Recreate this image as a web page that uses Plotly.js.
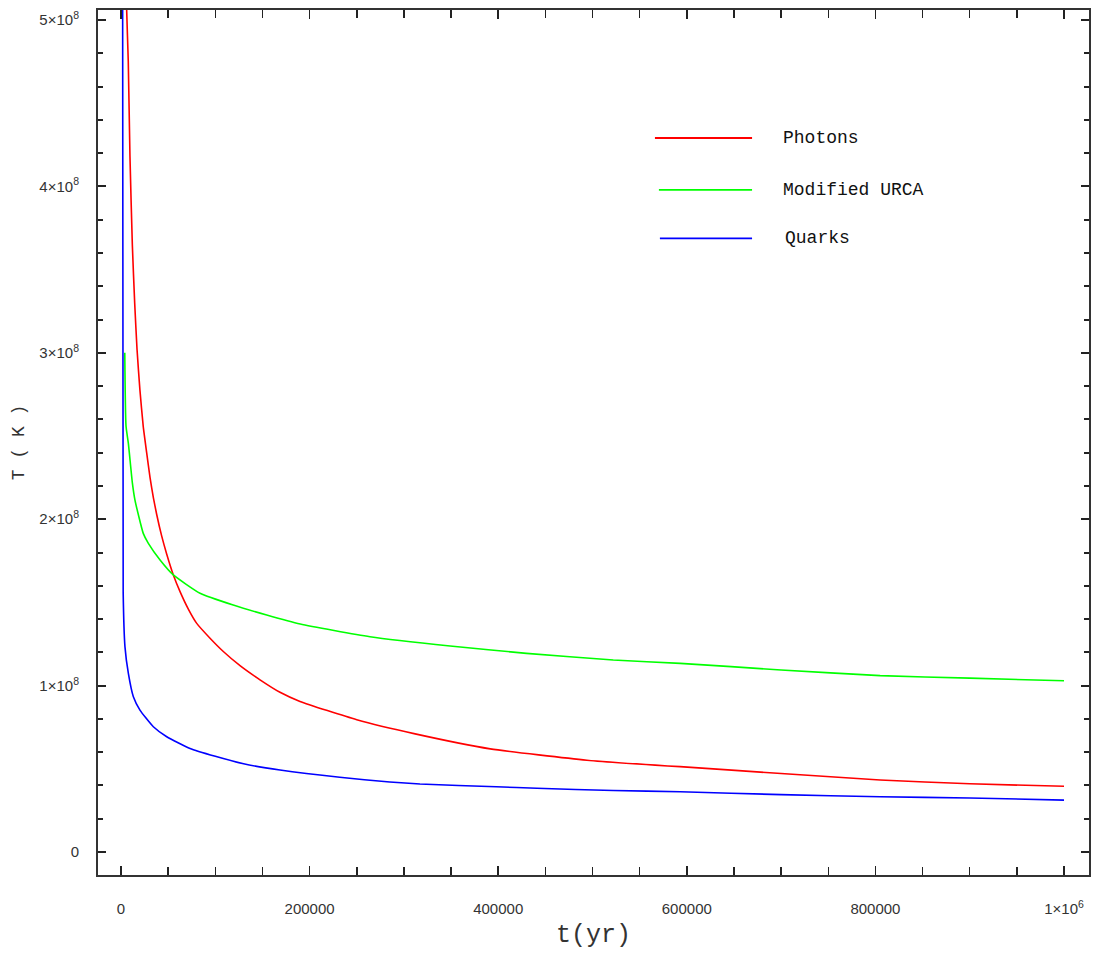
<!DOCTYPE html>
<html>
<head>
<meta charset="utf-8">
<script src="https://cdn.plot.ly/plotly-3.0.1.min.js"></script>
<style>body{margin:0;background:#fff;} #chart{width:1094px;height:954px;}</style>
</head>
<body>
<div id="chart"></div>
<script>
// Data (t in years, T in kelvin)
const seriesNames = ["Photons", "Modified URCA", "Quarks"];
const seriesColors = ["#ff0000", "#00ff00", "#0000ff"];

const photonsT = [5000, 6000, 7700, 9500, 12000, 14500, 17000, 20000, 23600, 27200, 30800, 34300, 37800, 43100, 48500, 55500, 62600, 71400, 80300, 94400, 108500, 126200, 147400, 168600, 189800, 250000, 311900, 391500, 494000, 566500, 592800, 700000, 805000, 900000, 1000000];
const photonsK = [5.6e8, 5.06e8, 4.75e8, 4.18e8, 3.65e8, 3.3e8, 3.02e8, 2.78e8, 2.556e8, 2.40e8, 2.25e8, 2.13e8, 2.03e8, 1.90e8, 1.79e8, 1.665e8, 1.565e8, 1.46e8, 1.374e8, 1.285e8, 1.205e8, 1.12e8, 1.035e8, 0.96e8, 0.905e8, 0.795e8, 0.71e8, 0.62e8, 0.552e8, 0.522e8, 0.513e8, 0.472e8, 0.433e8, 0.41e8, 0.395e8];

const urcaT = [4000, 5300, 7800, 12000, 14800, 23600, 29000, 41400, 55500, 83800, 119000, 154500, 190000, 264000, 349000, 430000, 522000, 593000, 700000, 805000, 900000, 1000000];
const urcaK = [3.0e8, 2.56e8, 2.456e8, 2.22e8, 2.115e8, 1.915e8, 1.855e8, 1.755e8, 1.665e8, 1.555e8, 1.484e8, 1.424e8, 1.37e8, 1.294e8, 1.238e8, 1.194e8, 1.154e8, 1.134e8, 1.094e8, 1.06e8, 1.045e8, 1.029e8];

const quarksT = [1700, 2300, 4200, 7800, 13100, 20100, 34300, 48500, 73200, 100000, 130000, 168600, 232000, 285000, 317000, 398000, 441000, 522000, 593000, 700000, 805000, 900000, 1000000];
const quarksK = [5.3e8, 1.56e8, 1.233e8, 1.073e8, 0.933e8, 0.853e8, 0.753e8, 0.693e8, 0.622e8, 0.575e8, 0.53e8, 0.493e8, 0.449e8, 0.421e8, 0.409e8, 0.392e8, 0.383e8, 0.37e8, 0.362e8, 0.345e8, 0.332e8, 0.325e8, 0.312e8];

const xTickVals = [0, 200000, 400000, 600000, 800000, 1000000];
const xTickText = ["0", "200000", "400000", "600000", "800000", "1×10<sup>6</sup>"];
const yTickVals = [0, 1e8, 2e8, 3e8, 4e8, 5e8];
const yTickText = ["0", "1×10<sup>8</sup>", "2×10<sup>8</sup>", "3×10<sup>8</sup>", "4×10<sup>8</sup>", "5×10<sup>8</sup>"];

const xs = [photonsT, urcaT, quarksT];
const ys = [photonsK, urcaK, quarksK];

const traces = seriesNames.map((n, i) => ({
  x: xs[i], y: ys[i], name: n, type: "scatter", mode: "lines",
  line: {color: seriesColors[i], width: 1.6, shape: "spline", smoothing: 0.5},
  showlegend: false, hoverinfo: "skip"
}));

// Custom legend (long line samples as in the reference)
const legendY = [0.852, 0.792, 0.736];
const legendX0 = [0.562, 0.566, 0.567];
const shapes = [];
const annotations = [];
seriesNames.forEach((n, i) => {
  shapes.push({type: "line", xref: "paper", yref: "paper",
    x0: legendX0[i], x1: 0.660, y0: legendY[i], y1: legendY[i],
    line: {color: seriesColors[i], width: 1.8}});
  annotations.push({xref: "paper", yref: "paper", x: 0.689 + (i === 2 ? 0.002 : 0), y: legendY[i],
    xanchor: "left", yanchor: "middle", text: n, showarrow: false,
    font: {family: "Liberation Mono", size: 18, color: "#111"}});
});

const axisCommon = {
  showgrid: false, zeroline: false, showline: true, mirror: "allticks",
  linecolor: "#333", linewidth: 2, ticks: "inside", tickcolor: "#222",
  tickfont: {family: "Liberation Sans", size: 15, color: "#333"}
};

const layout = {
  width: 1094, height: 954,
  margin: {l: 98, r: 5, t: 10, b: 79},
  paper_bgcolor: "#fff", plot_bgcolor: "#fff",
  xaxis: Object.assign({}, axisCommon, {
    range: [-24400, 1026500],
    tickmode: "array", tickvals: xTickVals, ticktext: xTickText,
    ticklen: 9, tickwidth: 1.5, ticklabelstandoff: 19,
    minor: {dtick: 50000, tick0: 0, ticks: "inside", ticklen: 8, tickcolor: "#222", tickwidth: 1.5, showgrid: false},
    title: {text: "t(yr)", font: {family: "Liberation Mono", size: 25, color: "#333"}, standoff: 8}
  }),
  yaxis: Object.assign({}, axisCommon, {
    range: [-1.38e7, 5.06e8],
    tickmode: "array", tickvals: yTickVals, ticktext: yTickText,
    ticklen: 8, tickwidth: 2, ticklabelstandoff: 14,
    minor: {dtick: 2e7, tick0: 0, ticks: "inside", ticklen: 5, tickcolor: "#222", tickwidth: 2, showgrid: false},
    title: {text: "T ( K )", font: {family: "Liberation Mono", size: 18, color: "#333"}, standoff: 10}
  }),
  shapes: shapes,
  annotations: annotations
};

Plotly.newPlot("chart", traces, layout, {displayModeBar: false, staticPlot: true});
</script>
</body>
</html>
